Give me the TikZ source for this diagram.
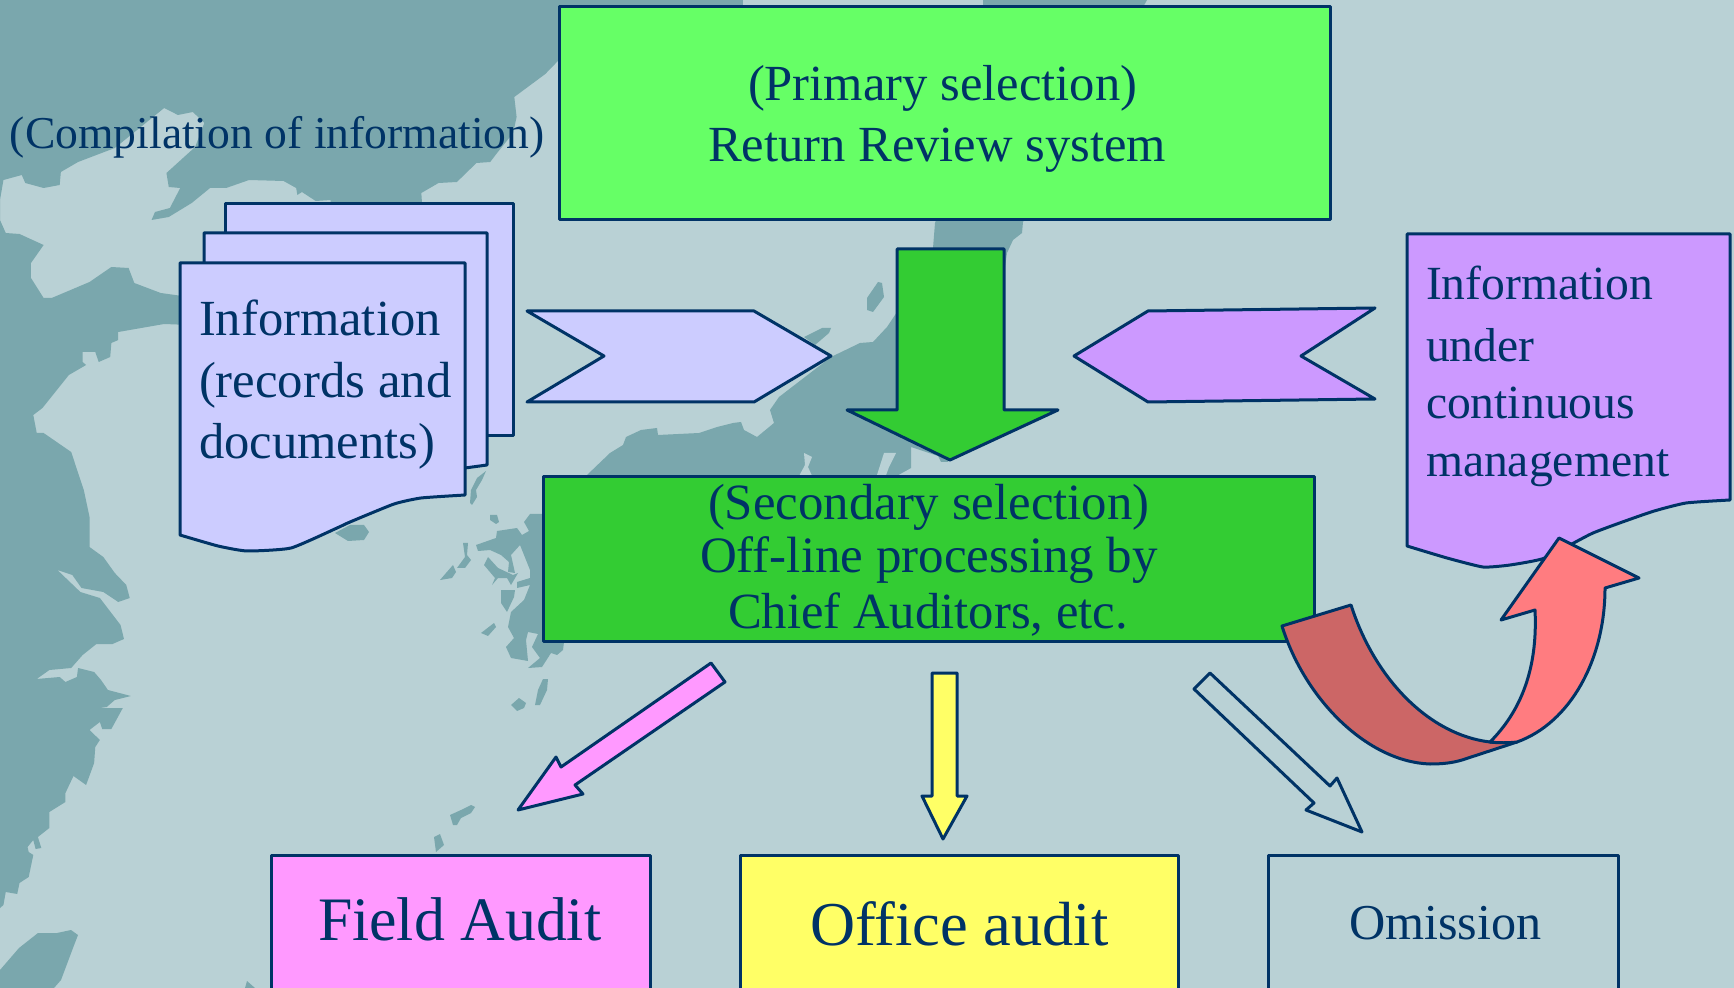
\documentclass[tikz,border=0pt]{standalone}
\usepackage{fontspec}
\setmainfont{Liberation Serif}
\definecolor{sea}{RGB}{185,209,213}
\definecolor{land}{RGB}{122,167,173}
\definecolor{ink}{RGB}{0,51,102}
\definecolor{lime}{RGB}{102,255,102}
\definecolor{midgreen}{RGB}{51,204,51}
\definecolor{lavender}{RGB}{204,204,255}
\definecolor{violet}{RGB}{204,153,255}
\definecolor{pinkish}{RGB}{255,153,255}
\definecolor{paleyellow}{RGB}{255,255,102}
\definecolor{redlight}{RGB}{255,124,128}
\definecolor{reddark}{RGB}{204,102,102}
\tikzset{
  landpoly/.style={fill=land,draw=none},
  seapoly/.style={fill=sea,draw=none},
  outl/.style={draw=ink,line width=1.5pt,line join=round},
  txt/.style={anchor=base west,inner sep=0pt,outer sep=0pt,text=ink},
  fs/.style={font=\fontsize{#1}{#1}\selectfont},
}
\begin{document}
\begin{tikzpicture}[x=0.5pt,y=-0.5pt]
\useasboundingbox (0,0) rectangle (1734,988);
\clip (0,0) rectangle (1734,988);
\fill[sea] (0,0) rectangle (1734,988);
% Asian mainland
\begin{scope}[xscale=1.148]
\fill[landpoly] (0,0) -- (647,0) -- (647,60) -- (486,61) -- (475,74) -- (448,97) -- (450,117) -- (447,133) -- (433,153) -- (427,162) -- (415,163) -- (398,182) -- (382,183) -- (367,193) -- (368,210) -- (288,210) -- (288,200) -- (275,201) -- (263,192) -- (259,195) -- (258,188) -- (247,181) -- (217,180) -- (197,188) -- (183,188) -- (167,203) -- (147,217) -- (132,220) -- (135,212) -- (148,208) -- (157,188) -- (147,187) -- (145,173) -- (170,147) -- (178,123) -- (168,112) -- (155,115) -- (143,108) -- (100,148) -- (68,162) -- (53,172) -- (52,185) -- (38,188) -- (22,183) -- (19,175) -- (3,180) -- (0,200) -- (0,220) -- (5,233) -- (17,234) -- (38,245) -- (27,263) -- (27,278) -- (38,298) -- (45,298) -- (78,282) -- (97,267) -- (112,268) -- (117,283) -- (140,293) -- (165,297) -- (165,325) -- (143,324) -- (103,332) -- (103,340) -- (97,343) -- (96,357) -- (86,362) -- (83,352) -- (72,352) -- (72,362) -- (75,365) -- (60,375) -- (37,408) -- (29,415) -- (32,433) -- (38,433) -- (62,452) -- (73,490) -- (78,517) -- (78,547) -- (90,557) -- (100,573) -- (110,585) -- (113,598) -- (103,602) -- (90,592) -- (71,588) -- (63,575) -- (50,570) -- (70,592) -- (87,598) -- (105,625) -- (108,639) -- (98,644) -- (84,644) -- (72,655) -- (62,668) -- (43,670) -- (32,679) -- (52,677) -- (57,682) -- (67,677) -- (68,668) -- (82,672) -- (88,680) -- (94,690) -- (114,696) -- (100,700) -- (93,707) -- (87,708) -- (107,708) -- (97,729) -- (89,729) -- (87,722) -- (78,730) -- (87,740) -- (83,747) -- (82,763) -- (75,785) -- (64,776) -- (57,793) -- (57,802) -- (43,812) -- (43,828) -- (33,837) -- (36,848) -- (31,849) -- (29,840) -- (24,847) -- (25,852) -- (29,855) -- (25,877) -- (17,883) -- (15,894) -- (5,892) -- (3,905) -- (0,908) -- cycle;
\end{scope}
% Japan
\fill[landpoly] (983,0) -- (1147,0) -- (1023,222) -- (1022,233) -- (1013,240) -- (1007,253) -- (1000,300) -- (990,420) -- (948,440) -- (948,462) -- (941,462) -- (938,456) -- (911,447) -- (911,468) -- (893,478) -- (587,478) -- (587,475) -- (610,453) -- (623,445) -- (626,437) -- (641,430) -- (657,428) -- (658,435) -- (699,433) -- (717,427) -- (733,423) -- (741,422) -- (744,430) -- (757,437) -- (774,423) -- (770,410) -- (779,397) -- (831,357) -- (860,343) -- (873,342) -- (887,327) -- (897,312) -- (933,248) -- (935,223) -- (983,100) -- cycle;
\fill[seapoly] (804,453) -- (812,457) -- (808,467) -- (813,478) -- (798,478) -- (805,465) -- cycle;
\fill[seapoly] (884,453) -- (896,453) -- (889,467) -- (885,478) -- (876,478) -- cycle;
\fill[landpoly] (867,298) -- (878,282) -- (882,283) -- (884,297) -- (873,312) -- (867,310) -- cycle;
\fill[landpoly] (804,337) -- (822,328) -- (831,328) -- (829,333) -- (815,345) -- cycle;
% Kyushu and islands
\fill[landpoly] (600,513) -- (530,514) -- (524,522) -- (529,531) -- (522,535) -- (517,528) -- (497,531) -- (496,538) -- (476,545) -- (478,551) -- (490,550) -- (501,555) -- (509,562) -- (508,572) -- (515,573) -- (511,555) -- (520,545) -- (530,570) -- (530,578) -- (517,582) -- (517,588) -- (530,585) -- (524,600) -- (511,612) -- (508,627) -- (514,638) -- (506,647) -- (511,658) -- (528,661) -- (526,640) -- (528,632) -- (538,634) -- (532,647) -- (540,658) -- (528,668) -- (542,667) -- (551,653) -- (557,655) -- (563,650) -- (564,642) -- (600,640) -- cycle;
\fill[landpoly] (484,565) -- (488,557) -- (498,568) -- (513,575) -- (518,573) -- (511,585) -- (507,578) -- (498,578) -- (492,585) -- (495,578) -- cycle;
\fill[landpoly] (501,590) -- (515,590) -- (514,597) -- (507,612) -- (501,603) -- cycle;
\fill[landpoly] (490,515) -- (497,515) -- (499,522) -- (496,524) -- (490,520) -- cycle;
\fill[landpoly] (486,471) -- (482,480) -- (476,490) -- (477,497) -- (472,505) -- (470,503) -- (471,490) -- (477,478) -- cycle;
\fill[landpoly] (335,533) -- (350,525) -- (364,525) -- (369,532) -- (364,540) -- (348,541) -- cycle;
\fill[landpoly] (440,580) -- (446,573) -- (453,565) -- (456,572) -- (452,578) -- cycle;
\fill[landpoly] (457,568) -- (465,557) -- (463,543) -- (468,543) -- (467,555) -- (471,560) -- (465,568) -- cycle;
\fill[landpoly] (481,633) -- (494,623) -- (496,627) -- (488,636) -- cycle;
\fill[landpoly] (543,679) -- (548,679) -- (547,690) -- (540,705) -- (535,705) -- (538,690) -- cycle;
\fill[landpoly] (511,705) -- (519,698) -- (526,703) -- (524,708) -- (517,711) -- cycle;
\fill[landpoly] (450,815) -- (461,810) -- (471,805) -- (475,807) -- (471,813) -- (461,818) -- (457,825) -- (453,825) -- cycle;
\fill[landpoly] (434,837) -- (440,834) -- (444,845) -- (436,852) -- cycle;
\fill[landpoly] (0,970) -- (19,948) -- (38,933) -- (57,933) -- (71,930) -- (78,935) -- (73,948) -- (61,980) -- (54,988) -- (0,988) -- cycle;
\fill[landpoly] (245,988) -- (247,981) -- (255,988) -- cycle;
% Boxes
\path[outl,fill=lime] (559,7) rectangle (1330,220);
\path[outl,fill=midgreen] (543,477) rectangle (1314,641);
\path[outl,fill=pinkish] (271,855) rectangle (650,1000);
\path[outl,fill=paleyellow] (740,855) rectangle (1178,1000);
\path[outl] (1268,855) rectangle (1618,1000);
% Documents
\path[outl,fill=lavender] (225,204) -- (513,204) -- (513,436) -- (225,436) -- cycle;
\path[outl,fill=lavender] (204,233) -- (487,233) -- (487,465) -- (465,468) -- (204,468) -- cycle;
\path[outl,fill=lavender] (180,263) -- (465,263) -- plot[smooth,tension=0.3] coordinates {(465,495) (421,498) (394,504) (350,522) (337,528) (291,548) (247,551) (218,546) (180,535)} -- cycle;
\path[outl,fill=violet] (1407,234) -- (1730,234) -- plot[smooth,tension=0.3] coordinates {(1730,500) (1686,503) (1651,512) (1593,533) (1545,558) (1510,565) (1483,567) (1447,558) (1407,546)} -- cycle;
% Block arrows
\path[outl,fill=midgreen] (897,249) -- (1004,249) -- (1004,410) -- (1058,410) -- (950,460) -- (847,410) -- (897,410) -- cycle;
\path[outl,fill=lavender] (527,311) -- (754,311) -- (831,356) -- (754,402) -- (527,402) -- (604,356) -- cycle;
\path[outl,fill=violet] (1074,356) -- (1148,311) -- (1375,308) -- (1301,356) -- (1375,399) -- (1148,402) -- cycle;
\path[outl,fill=pinkish] (711,663) -- (725,682) -- (575,785) -- (583,794) -- (518,810) -- (556,757) -- (561,767) -- cycle;
\path[outl,fill=paleyellow] (932,673) -- (957,673) -- (957,796) -- (967,796) -- (943,839) -- (922,796) -- (932,796) -- cycle;
\path[outl] (1210,673) -- (1330,786) -- (1337,778) -- (1362,832) -- (1306,810) -- (1314,803) -- (1194,689) -- cycle;
% Curved arrow
\path[outl,fill=reddark] (1282,626) -- (1351,605) .. controls (1375,680) and (1430,735) .. (1490,742) -- (1517,742) -- (1462,760) .. controls (1452,763) and (1442,764) .. (1430,764) .. controls (1368,762) and (1305,700) .. (1282,626) -- cycle;
\path[outl,fill=redlight] (1490,742) .. controls (1520,712) and (1538,670) .. (1535,610) -- (1501,620) -- (1559,538) -- (1639,578) -- (1605,588) .. controls (1605,660) and (1570,723) .. (1517,742) .. controls (1508,743) and (1498,743) .. (1490,742) -- cycle;
% Texts
\node[txt,fs=22.8] (t1) at (10,149) {(Compilation of information)};
\node[txt,fs=25.3] (t2) at (199,336) {Information};
\node[txt,fs=25.4] (t3) at (199,398) {(records and};
\node[txt,fs=25.3] (t4) at (199,459) {documents)};
\node[txt,fs=25.3] (t5) at (748,101) {(Primary selection)};
\node[txt,fs=25.3] (t6) at (708,162) {Return Review system};
\node[txt,fs=25.4] (t7) at (708,520) {(Secondary selection)};
\node[txt,fs=25.5] (t8) at (700,573) {Off-line processing by};
\node[txt,fs=25.35] (t9) at (728,628) {Chief Auditors, etc.};
\node[txt,fs=23.8] (t10) at (1426,300) {Information};
\node[txt,fs=23.8] (t11) at (1426,362) {under};
\node[txt,fs=23.8] (t12) at (1426,419) {continuous};
\node[txt,fs=23.8] (t13) at (1426,477) {management};
\node[txt,fs=30.9] (t14) at (318,940) {Field Audit};
\node[txt,fs=31.2] (t15) at (810,945) {Office audit};
\node[txt,fs=25.1] (t16) at (1349,939) {Omission};
\end{tikzpicture}
\end{document}
